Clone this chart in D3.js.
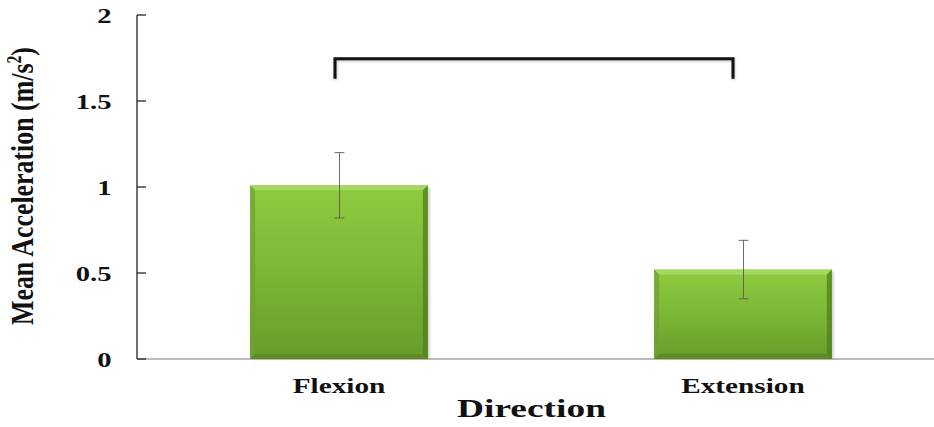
<!DOCTYPE html>
<html>
<head>
<meta charset="utf-8">
<script src="https://cdn.jsdelivr.net/npm/d3@7"></script>
<style>
  html, body { margin: 0; padding: 0; background: #fff; }
  svg { display: block; }
  text { font-family: "Liberation Serif", "Times New Roman", serif; font-weight: bold; fill: #111; }
</style>
</head>
<body>
<svg id="chart" width="934" height="427"></svg>
<script>
// Mean acceleration by movement direction
const categories = ["Flexion", "Extension"];
const means = [1.01, 0.52];
const errors = [0.19, 0.17];
const yTicks = [0, 0.5, 1, 1.5, 2];
const yTickLabels = ["0", "0.5", "1", "1.5", "2"];
// significance bracket between the two directions (value units)
const bracketTop = 1.745;
const bracketFoot = 1.63;

const svg = d3.select("#chart");
const W = 934, H = 427;

const x = d3.scaleBand()
  .domain(categories)
  .range([137, 945])
  .paddingInner(0.56)
  .paddingOuter(0.28);

const y = d3.scaleLinear().domain([0, 2]).range([359, 15]);

const defs = svg.append("defs");
const grad = defs.append("linearGradient")
  .attr("id", "barFace").attr("x1", 0).attr("y1", 0).attr("x2", 0).attr("y2", 1);
grad.append("stop").attr("offset", "0%").attr("stop-color", "#8fcb40");
grad.append("stop").attr("offset", "45%").attr("stop-color", "#7dba36");
grad.append("stop").attr("offset", "100%").attr("stop-color", "#679c2a");

const shadow = defs.append("filter").attr("id", "soft")
  .attr("x", "-10%").attr("y", "-10%").attr("width", "130%").attr("height", "130%");
shadow.append("feGaussianBlur").attr("stdDeviation", 1.2);

// x axis baseline
svg.append("line")
  .attr("x1", 137).attr("x2", W)
  .attr("y1", y(0)).attr("y2", y(0))
  .attr("stroke", "#a6a6a6").attr("stroke-width", 1.5);

// bars with bevelled edges
const bev = 5;
const bars = svg.append("g").selectAll("g").data(categories).join("g");
bars.each(function(c, i) {
  const g = d3.select(this);
  const x0 = x(c), x1 = x(c) + x.bandwidth();
  const yt = y(means[i]), yb = y(0);
  // soft drop shadow to the right
  g.append("rect")
    .attr("x", x0 + 2).attr("y", yt + 2)
    .attr("width", x.bandwidth()).attr("height", yb - yt - 2)
    .attr("fill", "#9a9a9a").attr("opacity", 0.45).attr("filter", "url(#soft)");
  g.append("rect")
    .attr("x", x0).attr("y", yt)
    .attr("width", x.bandwidth()).attr("height", yb - yt)
    .attr("fill", "url(#barFace)");
  // top bevel
  g.append("polygon")
    .attr("points", [[x0, yt], [x1, yt], [x1 - bev, yt + bev], [x0 + bev, yt + bev]].join(" "))
    .attr("fill", "#a9d862").attr("opacity", 0.9);
  // left bevel
  g.append("polygon")
    .attr("points", [[x0, yt], [x0 + bev, yt + bev], [x0 + bev, yb - bev], [x0, yb]].join(" "))
    .attr("fill", "#6f9f30").attr("opacity", 0.7);
  // right bevel
  g.append("polygon")
    .attr("points", [[x1, yt], [x1 - bev, yt + bev], [x1 - bev, yb - bev], [x1, yb]].join(" "))
    .attr("fill", "#4f7f1c").attr("opacity", 0.75);
  // bottom bevel
  g.append("polygon")
    .attr("points", [[x0, yb], [x0 + bev, yb - bev], [x1 - bev, yb - bev], [x1, yb]].join(" "))
    .attr("fill", "#577f22").attr("opacity", 0.6);
});

// error bars
const eb = svg.append("g").attr("stroke", "#555").attr("stroke-width", 1).attr("stroke-opacity", 0.85);
categories.forEach((c, i) => {
  const cx = Math.round(x(c) + x.bandwidth() / 2) + 0.5;
  const hi = y(means[i] + errors[i]), lo = y(means[i] - errors[i]);
  eb.append("line").attr("x1", cx).attr("x2", cx).attr("y1", hi).attr("y2", lo);
  eb.append("line").attr("x1", cx - 5).attr("x2", cx + 5).attr("y1", hi).attr("y2", hi);
  eb.append("line").attr("x1", cx - 5).attr("x2", cx + 5).attr("y1", lo).attr("y2", lo);
});

// y axis
const yAxis = svg.append("g").attr("transform", "translate(137,0)");
yAxis.append("line").attr("x1", 0).attr("x2", 0).attr("y1", y(2)).attr("y2", y(0))
  .attr("stroke", "#222").attr("stroke-width", 1.3);
yAxis.selectAll("line.tick").data(yTicks).join("line").attr("class", "tick")
  .attr("x1", 0).attr("x2", 9)
  .attr("y1", d => y(d)).attr("y2", d => y(d))
  .attr("stroke", "#222").attr("stroke-width", 1.3);
svg.append("g").selectAll("text").data(yTicks).join("text")
  .attr("transform", d => `translate(111.5,${y(d) + 7.5}) scale(1.3,1)`)
  .attr("text-anchor", "end")
  .attr("font-size", 22)
  .text((d, i) => yTickLabels[i]);

// category labels
svg.append("g").selectAll("text").data(categories).join("text")
  .attr("transform", c => `translate(${x(c) + x.bandwidth() / 2},393) scale(1.33,1)`)
  .attr("text-anchor", "middle")
  .attr("font-size", 22)
  .text(c => c);

// axis titles
svg.append("text")
  .attr("transform", "translate(531.5,417) scale(1.44,1)")
  .attr("text-anchor", "middle")
  .attr("font-size", 26)
  .text("Direction");

const yt = svg.append("text")
  .attr("transform", "translate(33,186) scale(1.33,1) rotate(-90)")
  .attr("text-anchor", "middle")
  .attr("font-size", 24.5)
  .attr("textLength", 278)
  .attr("lengthAdjust", "spacingAndGlyphs");
yt.append("tspan").text("Mean Acceleration (m/s");
yt.append("tspan").attr("font-size", 15).attr("dy", -9).text("2");
yt.append("tspan").attr("dy", 9).text(")");

// significance bracket
const bx0 = x("Flexion") + x.bandwidth() / 2 - 4;
const bx1 = x("Extension") + x.bandwidth() / 2 - 10;
const bracketPath = `M${bx0},${y(bracketFoot)} V${y(bracketTop)} H${bx1} V${y(bracketFoot)}`;
svg.append("path").attr("d", bracketPath)
  .attr("fill", "none").attr("stroke", "#888").attr("stroke-width", 3.5)
  .attr("opacity", 0.5).attr("filter", "url(#soft)")
  .attr("transform", "translate(0.5,1)");
svg.append("path").attr("d", bracketPath)
  .attr("fill", "none").attr("stroke", "#111").attr("stroke-width", 3);
</script>
</body>
</html>
